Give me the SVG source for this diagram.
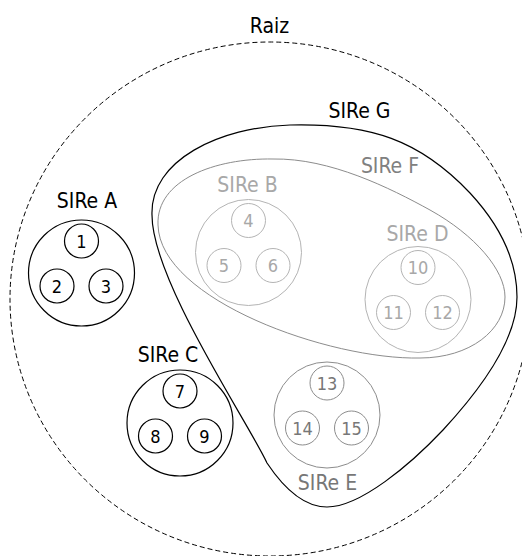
<svg xmlns="http://www.w3.org/2000/svg" width="522" height="556" viewBox="0 0 522 556">
  <style>
    .lbl { font-family: "DejaVu Sans Condensed", "DejaVu Sans", Verdana, sans-serif; font-stretch: condensed; font-size: 21px; text-anchor: middle; }
    .num { font-family: "DejaVu Sans Condensed", "DejaVu Sans", Verdana, sans-serif; font-stretch: condensed; font-size: 18px; text-anchor: middle; }
    .dark circle { fill: none; stroke: #000; stroke-width: 1.2; }
    .dark text { fill: #000; }
    .light circle { fill: none; stroke: #b4b4b4; stroke-width: 1; }
    .light text { fill: #a8a8a8; }
    .mid circle { fill: none; stroke: #8c8c8c; stroke-width: 1; }
    .mid text { fill: #777; }
  </style>

  <!-- root domain -->
  <g id="raiz">
    <ellipse cx="270" cy="299" rx="260" ry="257" fill="none" stroke="#000" stroke-width="1" stroke-dasharray="5,3"/>
    <text class="lbl" x="269.5" y="33" fill="#000">Raiz</text>
  </g>

  <!-- SIRe G outline -->
  <g id="sire-g">
    <path d="M 152,215 C 150,160 220,127 290,125 C 370,123 420,140 470,193 C 495,220 517,255 517,297 C 517,340 480,390 443,430 C 410,465 360,507 327,507 C 305,507 285,490 267,463 C 248,422 152,280 152,215 Z" fill="none" stroke="#000" stroke-width="1.2"/>
    <text class="lbl" x="359.5" y="118" fill="#000">SIRe G</text>
  </g>

  <!-- SIRe F outline -->
  <g id="sire-f">
    <path d="M 158,225 C 156,180 215,158 273,159 C 330,158 390,188 430,210 C 475,235 505,270 505,297 C 505,330 470,358 420,358 C 330,360 160,300 158,225 Z" fill="none" stroke="#8c8c8c" stroke-width="1"/>
    <text class="lbl" x="390" y="172.5" fill="#808080">SIRe F</text>
  </g>

  <!-- SIRe A -->
  <g id="sire-a" class="dark" transform="translate(81.5,273)">
    <circle r="53"/>
    <text class="lbl" x="5.5" y="-65">SIRe A</text>
    <g id="n1"><circle cx="0" cy="-32" r="17"/><text class="num" x="0" y="-25.5">1</text></g>
    <g id="n2"><circle cx="-24.5" cy="13" r="17"/><text class="num" x="-24.5" y="19.5">2</text></g>
    <g id="n3"><circle cx="24.5" cy="13" r="17"/><text class="num" x="24.5" y="19.5">3</text></g>
  </g>

  <!-- SIRe B -->
  <g id="sire-b" class="light" transform="translate(248.5,252.5)">
    <circle r="53"/>
    <text class="lbl" x="-1" y="-60.5">SIRe B</text>
    <g id="n4"><circle cx="0" cy="-32" r="17"/><text class="num" x="0" y="-25.5">4</text></g>
    <g id="n5"><circle cx="-24.5" cy="13" r="17"/><text class="num" x="-24.5" y="19.5">5</text></g>
    <g id="n6"><circle cx="24.5" cy="13" r="17"/><text class="num" x="24.5" y="19.5">6</text></g>
  </g>

  <!-- SIRe C -->
  <g id="sire-c" class="dark" transform="translate(180,423)">
    <circle r="53"/>
    <text class="lbl" x="-12" y="-61.5">SIRe C</text>
    <g id="n7"><circle cx="0" cy="-32" r="17"/><text class="num" x="0" y="-25.5">7</text></g>
    <g id="n8"><circle cx="-24.5" cy="13" r="17"/><text class="num" x="-24.5" y="19.5">8</text></g>
    <g id="n9"><circle cx="24.5" cy="13" r="17"/><text class="num" x="24.5" y="19.5">9</text></g>
  </g>

  <!-- SIRe D -->
  <g id="sire-d" class="light" transform="translate(418,299.5)">
    <circle r="53"/>
    <text class="lbl" x="-0.5" y="-59">SIRe D</text>
    <g id="n10"><circle cx="0" cy="-32" r="17"/><text class="num" x="0" y="-25.5">10</text></g>
    <g id="n11"><circle cx="-24.5" cy="13" r="17"/><text class="num" x="-24.5" y="19.5">11</text></g>
    <g id="n12"><circle cx="24.5" cy="13" r="17"/><text class="num" x="24.5" y="19.5">12</text></g>
  </g>

  <!-- SIRe E -->
  <g id="sire-e" class="mid" transform="translate(327,415)">
    <circle r="53"/>
    <text class="lbl" x="0.5" y="75">SIRe E</text>
    <g id="n13"><circle cx="0" cy="-32" r="17"/><text class="num" x="0" y="-25.5">13</text></g>
    <g id="n14"><circle cx="-24.5" cy="13" r="17"/><text class="num" x="-24.5" y="19.5">14</text></g>
    <g id="n15"><circle cx="24.5" cy="13" r="17"/><text class="num" x="24.5" y="19.5">15</text></g>
  </g>
</svg>
